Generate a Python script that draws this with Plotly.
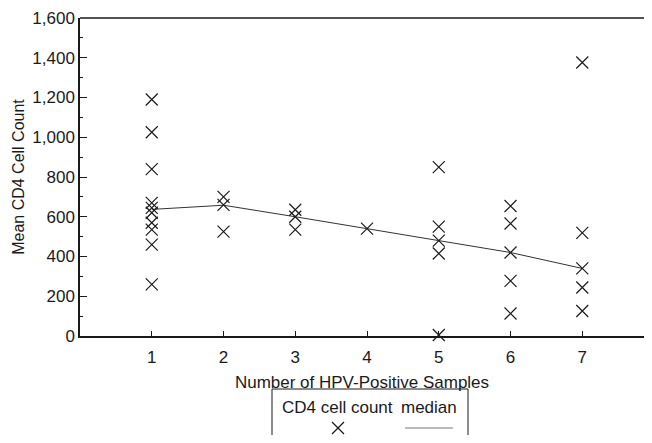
import plotly.graph_objects as go

# number of HPV-positive samples (x) and mean CD4 cell count (y) per patient
hpv_samples = (
    [1] * 10 + [2] * 3 + [3] * 3 + [4] + [5] * 5 + [6] * 5 + [7] * 5
)
cd4_counts = [
    1190, 1025, 840, 670, 645, 620, 570, 535, 460, 260,   # 1
    700, 660, 525,                                        # 2
    635, 600, 535,                                        # 3
    540,                                                  # 4
    850, 550, 480, 415, 5,                                # 5
    654, 566, 420, 277, 113,                              # 6
    1376, 519, 340, 244, 126,                             # 7
]

median_x = [1, 2, 3, 4, 5, 6, 7]
median_y = [637, 658, 600, 540, 482, 420, 340]

x_ticks = [1, 2, 3, 4, 5, 6, 7]

FONT = "Liberation Sans, Arial, sans-serif"
INK = "#1a1a1a"

fig = go.Figure()
fig.add_trace(go.Scatter(
    x=median_x, y=median_y, mode="lines",
    line=dict(color="#333333", width=1), name="median", showlegend=False,
))
fig.add_trace(go.Scatter(
    x=hpv_samples, y=cd4_counts, mode="markers",
    marker=dict(symbol="x-thin-open", size=12, color=INK,
                line=dict(color=INK, width=1.2)),
    name="CD4 cell count", showlegend=False, cliponaxis=False,
))

# ─── hand-drawn legend box below the x title ────────────────────────────────
# page pixels -> paper; page body has an 8px margin, plot area is x 80..644, y 18..336
def px(x):
    return (x - 80) / 564

def py(y):
    return (336 - y) / 318

# top frame line (open on the right, like the original)
fig.add_shape(type="line", xref="paper", yref="paper",
              x0=0, x1=1, y0=1, y1=1, line=dict(color=INK, width=1.5))

fig.add_shape(type="rect", xref="paper", yref="paper",
              x0=px(272), x1=px(468), y0=py(389), y1=py(470),
              line=dict(color=INK, width=1))
fig.add_shape(type="line", xref="paper", yref="paper",
              x0=px(405), x1=px(453), y0=py(428), y1=py(428),
              line=dict(color="#777777", width=1))
fig.add_shape(type="line", xref="paper", yref="paper",
              x0=px(332), x1=px(344), y0=py(422), y1=py(434),
              line=dict(color=INK, width=1.2))
fig.add_shape(type="line", xref="paper", yref="paper",
              x0=px(332), x1=px(344), y0=py(434), y1=py(422),
              line=dict(color=INK, width=1.2))
fig.add_annotation(xref="paper", yref="paper", x=px(337), y=py(407),
                   xanchor="center", yanchor="middle",
                   text="CD4 cell count", showarrow=False,
                   font=dict(size=17, color=INK, family=FONT))
fig.add_annotation(xref="paper", yref="paper", x=px(429), y=py(407),
                   xanchor="center", yanchor="middle",
                   text="median", showarrow=False,
                   font=dict(size=17, color=INK, family=FONT))

fig.update_xaxes(
    range=[0, 7.86], tickvals=x_ticks, ticks="inside", ticklen=5,
    tickcolor=INK, showline=True, linecolor=INK, linewidth=1.5, mirror=False,
    showgrid=False, zeroline=False, ticklabelstandoff=5, automargin=False,
    title=dict(text="Number of HPV-Positive Samples", standoff=10,
               font=dict(size=17, color=INK, family=FONT)),
    tickfont=dict(size=17, color=INK, family=FONT),
)
fig.update_yaxes(
    range=[0, 1600], dtick=200, tickformat=",", ticks="inside", ticklen=7,
    tickcolor=INK, showline=True, linecolor=INK, linewidth=1.5, mirror=False,
    showgrid=False, zeroline=False, automargin=False,
    minor=dict(dtick=100, ticks="inside", ticklen=3, tickcolor=INK),
    title=dict(text="Mean CD4 Cell Count", standoff=4,
               font=dict(size=16, color=INK, family=FONT)),
    tickfont=dict(size=17, color=INK, family=FONT),
)
fig.update_layout(
    width=636, height=427,
    margin=dict(l=72, r=0, t=10, b=99),
    paper_bgcolor="white", plot_bgcolor="white",
    font=dict(family=FONT, size=17, color=INK),
    showlegend=False,
)
fig.write_html("out.html")
